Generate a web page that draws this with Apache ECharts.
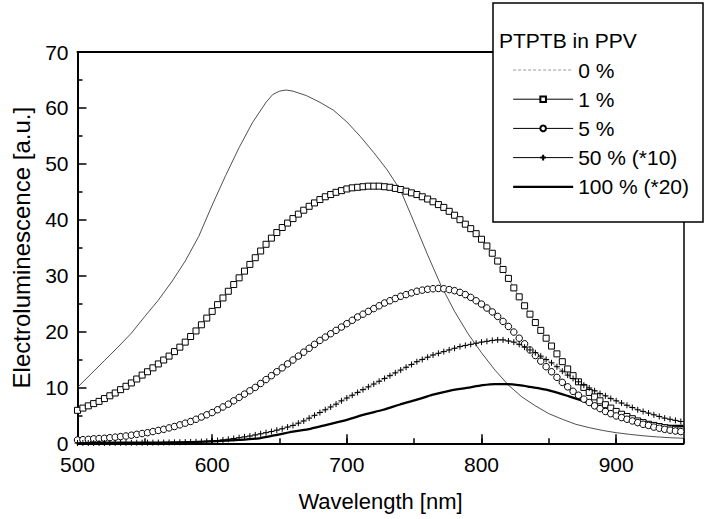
<!DOCTYPE html>
<html>
<head>
<meta charset="utf-8">
<script src="https://cdn.jsdelivr.net/npm/echarts@6/dist/echarts.min.js"></script>
<style>html,body{margin:0;padding:0;background:#fff}#c{width:705px;height:519px}</style>
</head>
<body>
<div id="c"></div>
<script>
// ---- data ----
const legendTitle = 'PTPTB in PPV';
const seriesNames = ['0 %', '1 %', '5 %', '50 % (*10)', '100 % (*20)'];
const xAxisTitle = 'Wavelength [nm]';
const yAxisTitle = 'Electroluminescence [a.u.]';

// sampling wavelengths of the marker series (nm)
const wavelengths = [
  500,504,508,512,516,520,524,528,532,536,
  540,544,548,552,556,560,564,568,572,576,
  580,584,588,592,596,600,604,608,612,616,
  620,624,628,632,636,640,644,648,652,656,
  660,664,668,672,676,680,684,688,692,696,
  700,704,708,712,716,720,724,728,732,736,
  740,744,748,752,756,760,764,768,772,776,
  780,784,788,792,796,800,804,808,812,816,
  820,824,828,832,836,840,844,848,852,856,
  860,864,868,872,876,880,884,888,892,896,
  900,904,908,912,916,920,924,928,932,936,
  940,944,948
];
const pct1 = [
  5.9,6.3,6.7,7.1,7.5,8.0,8.5,9.0,9.6,10.2,
  10.8,11.5,12.2,12.8,13.5,14.2,14.9,15.6,16.4,17.2,
  18.1,19.1,20.1,21.2,22.4,23.6,24.8,26.0,27.2,28.4,
  29.6,30.8,32.0,33.2,34.4,35.6,36.7,37.7,38.6,39.4,
  40.2,41.0,41.7,42.4,43.0,43.6,44.1,44.5,44.9,45.2,
  45.5,45.7,45.8,45.9,46.0,46.0,46.0,45.9,45.8,45.6,
  45.4,45.1,44.8,44.5,44.1,43.7,43.2,42.7,42.2,41.5,
  40.8,40.0,39.2,38.4,37.5,36.5,35.3,34.0,32.6,31.1,
  29.5,27.8,26.2,24.6,23.1,21.6,20.2,18.8,17.4,16.0,
  14.6,13.3,12.1,11.0,10.0,9.1,8.3,7.6,6.9,6.3,
  5.7,5.2,4.8,4.4,4.0,3.7,3.4,3.2,3.0,2.8,
  2.6,2.5,2.4
];
const pct5 = [
  0.6,0.65,0.7,0.8,0.85,0.9,1.0,1.1,1.2,1.3,
  1.45,1.6,1.75,1.9,2.1,2.3,2.5,2.75,3.0,3.3,
  3.6,3.9,4.3,4.7,5.1,5.5,6.0,6.5,7.0,7.6,
  8.2,8.8,9.4,10.0,10.7,11.4,12.1,12.8,13.5,14.2,
  14.9,15.6,16.3,17.0,17.7,18.4,19.0,19.6,20.2,20.8,
  21.4,22.0,22.6,23.1,23.6,24.1,24.6,25.1,25.5,25.9,
  26.3,26.6,26.9,27.2,27.4,27.55,27.65,27.7,27.65,27.5,
  27.3,27.0,26.6,26.1,25.5,24.9,24.2,23.5,22.7,21.8,
  20.9,19.9,18.8,17.8,16.7,15.7,14.7,13.7,12.8,11.8,
  10.9,10.1,9.3,8.6,7.9,7.3,6.7,6.2,5.7,5.3,
  4.9,4.6,4.3,4.0,3.7,3.4,3.2,2.9,2.7,2.5,
  2.35,2.2,2.1
];
const pct50 = [
  0.05,0.05,0.05,0.05,0.06,0.06,0.07,0.07,0.08,0.08,
  0.09,0.1,0.1,0.11,0.12,0.13,0.14,0.15,0.17,0.19,
  0.21,0.24,0.27,0.31,0.36,0.42,0.5,0.6,0.72,0.86,
  1.0,1.15,1.3,1.5,1.7,1.9,2.1,2.35,2.6,2.9,
  3.2,3.6,4.0,4.5,5.0,5.5,6.0,6.5,7.0,7.6,
  8.1,8.6,9.1,9.6,10.1,10.6,11.1,11.6,12.1,12.6,
  13.1,13.6,14.1,14.6,15.0,15.4,15.8,16.1,16.4,16.7,
  17.0,17.3,17.5,17.7,17.9,18.1,18.25,18.4,18.5,18.5,
  18.3,18.1,17.7,17.2,16.7,16.2,15.6,15.0,14.4,13.7,
  12.9,12.2,11.6,11.0,10.4,9.9,9.4,8.9,8.5,8.0,
  7.6,7.2,6.8,6.4,6.0,5.7,5.4,5.1,4.8,4.5,
  4.3,4.1,3.9
];
// line-only series
const wl0  = [500,510,520,530,540,546,550,560,570,580,590,600,610,620,630,640,645,650,655,660,670,680,690,700,710,720,730,740,750,760,770,780,790,800,810,820,830,840,850,860,870,880,890,900,910,920,930,940,950];
const pct0 = [10,12.4,14.8,17.2,19.7,21.5,22.7,25.6,28.9,32.6,37.0,42.6,47.9,52.9,57.4,61.0,62.4,63.0,63.2,63.0,62.2,61.0,59.6,57.5,54.9,52.0,48.9,45.2,39.5,33.7,28.2,23.6,19.6,16.2,13.1,10.4,8.3,6.7,5.3,4.3,3.4,2.8,2.3,1.9,1.6,1.35,1.15,1.0,0.9];
const wl100  = [500,540,580,600,620,635,646,660,673,685,700,714,727,739,752,764,776,789,801,810,818,828,836,848,865,880,897,910,920,932,942,950];
const pct100 = [0.1,0.1,0.2,0.35,0.6,0.9,1.4,2.1,2.6,3.3,4.2,5.2,6.0,6.9,7.8,8.7,9.4,9.9,10.4,10.6,10.6,10.4,10.1,9.6,8.4,7.2,5.7,4.7,4.0,3.3,3.1,3.1];

// ---- chart ----
const FONT = '"Liberation Sans", Arial, sans-serif';
const pair = (xs, ys) => xs.map((x, i) => [x, ys[i]]);
const chart = echarts.init(document.getElementById('c'), null, {renderer: 'svg'});
const black = '#000';
const legendLine = {color: black, width: 1, type: 'solid'};
const option = {
  animation: false,
  backgroundColor: '#fff',
  textStyle: {fontFamily: FONT},
  grid: {left: 77.5, right: 21.5, top: 52, bottom: 75.7},
  title: {
    text: legendTitle, left: 499, top: 29, padding: 0, z: 7,
    textStyle: {fontFamily: FONT, fontSize: 21, fontWeight: 'normal', color: black, lineHeight: 22}
  },
  graphic: [{
    type: 'rect', x: 493, y: 3, z: 5, silent: true,
    shape: {width: 210, height: 219},
    style: {fill: '#fff', stroke: black, lineWidth: 1.5}
  }],
  legend: {
    orient: 'vertical', left: 493, top: 3, padding: [56, 10, 10, 19],
    itemWidth: 60, itemHeight: 7, itemGap: 7.2, z: 6, selectedMode: false,
    textStyle: {fontFamily: FONT, fontSize: 21, color: black, lineHeight: 22},
    data: [
      {name: seriesNames[0], lineStyle: {type: [3, 2], color: '#999', width: 1}, itemStyle: {opacity: 0}},
      {name: seriesNames[1], lineStyle: legendLine},
      {name: seriesNames[2], lineStyle: legendLine},
      {name: seriesNames[3], lineStyle: legendLine},
      {name: seriesNames[4], lineStyle: {color: black, width: 2.3}, itemStyle: {opacity: 0}}
    ]
  },
  xAxis: [
    {
      type: 'value', min: 500, max: 950, interval: 100, position: 'bottom',
      axisLine: {show: true, onZero: false, lineStyle: {color: black, width: 2}},
      axisTick: {show: true, inside: true, length: 9, lineStyle: {color: black, width: 1.5}},
      axisLabel: {color: black, fontSize: 21, fontFamily: FONT, margin: 11, showMaxLabel: false},
      splitLine: {show: false},
      name: xAxisTitle, nameLocation: 'middle', nameGap: 47,
      nameTextStyle: {color: black, fontSize: 22, fontFamily: FONT}
    },
    {
      type: 'value', min: 500, max: 950, interval: 50, position: 'bottom',
      axisLine: {show: false, onZero: false},
      axisTick: {show: true, inside: true, length: 5, lineStyle: {color: black, width: 1.5}},
      axisLabel: {show: false}, splitLine: {show: false}
    },
    {
      type: 'value', min: 500, max: 950, position: 'top',
      axisLine: {show: true, onZero: false, lineStyle: {color: black, width: 2}},
      axisTick: {show: false}, axisLabel: {show: false}, splitLine: {show: false}
    }
  ],
  yAxis: [
    {
      type: 'value', min: 0, max: 70, interval: 10, position: 'left',
      axisLine: {show: true, onZero: false, lineStyle: {color: black, width: 2}},
      axisTick: {show: true, inside: true, length: 9, lineStyle: {color: black, width: 1.5}},
      minorTick: {show: true, splitNumber: 2, length: 5, lineStyle: {color: black, width: 1.5}},
      axisLabel: {color: black, fontSize: 21, fontFamily: FONT, margin: 9},
      splitLine: {show: false},
      name: yAxisTitle, nameLocation: 'middle', nameGap: 44,
      nameTextStyle: {color: black, fontSize: 24, fontFamily: FONT}
    },
    {
      type: 'value', min: 0, max: 70, position: 'right',
      axisLine: {show: true, onZero: false, lineStyle: {color: black, width: 1.5}},
      axisTick: {show: false}, axisLabel: {show: false}, splitLine: {show: false}
    }
  ],
  series: [
    {
      name: seriesNames[0], type: 'line', data: pair(wl0, pct0), symbol: 'none', smooth: false,
      lineStyle: {color: '#222', width: 0.8}, itemStyle: {color: '#222'}, silent: true, z: 2
    },
    {
      name: seriesNames[1], type: 'line', data: pair(wavelengths, pct1), symbol: 'rect', symbolSize: 6,
      lineStyle: {color: '#555', width: 0.7}, itemStyle: {color: '#fff', borderColor: black, borderWidth: 1},
      silent: true, z: 2
    },
    {
      name: seriesNames[2], type: 'line', data: pair(wavelengths, pct5), symbol: 'circle', symbolSize: 6.5,
      lineStyle: {color: '#555', width: 0.7}, itemStyle: {color: '#fff', borderColor: black, borderWidth: 1},
      silent: true, z: 2
    },
    {
      name: seriesNames[3], type: 'line', data: pair(wavelengths, pct50), symbol: 'path://M0,5L10,5M5,0L5,10', symbolSize: 6,
      lineStyle: {color: '#555', width: 0.7}, itemStyle: {color: black, borderColor: black, borderWidth: 1},
      silent: true, z: 2
    },
    {
      name: seriesNames[4], type: 'line', data: pair(wl100, pct100), symbol: 'none', smooth: 0.3,
      lineStyle: {color: black, width: 2.3}, itemStyle: {color: black}, silent: true, z: 2
    }
  ]
};
chart.setOption(option);
</script>
</body>
</html>
